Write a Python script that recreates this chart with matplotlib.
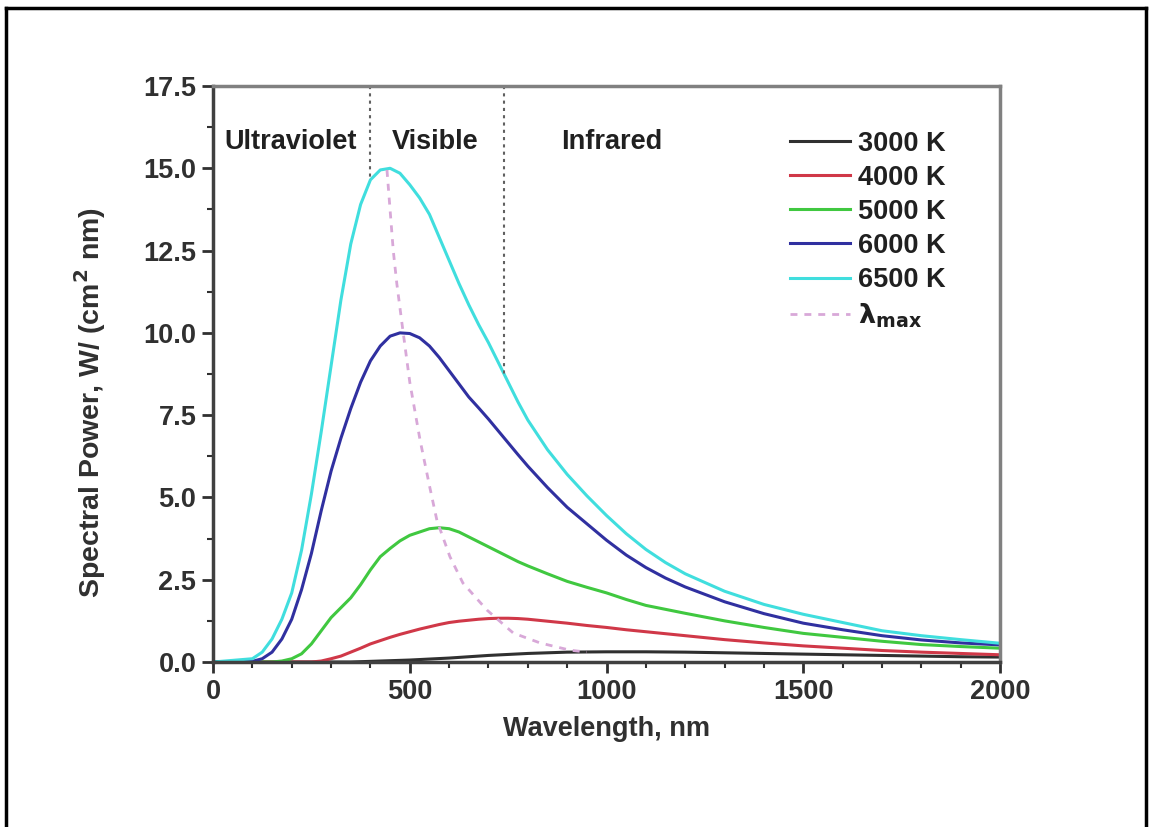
import numpy as np
import matplotlib
matplotlib.use("Agg")
import matplotlib.pyplot as plt
from matplotlib.lines import Line2D

plt.rcParams['font.family'] = ['Liberation Sans', 'DejaVu Sans']
plt.rcParams['font.weight'] = 'bold'
plt.rcParams['mathtext.default'] = 'bf'

# wavelength grid (nm) and spectral power
wl = [0, 100, 125, 150, 175, 200, 225, 250, 275, 300, 325, 350, 375, 400, 425, 450,
      475, 500, 525, 550, 575, 600, 625, 650, 675, 700, 725, 750, 775, 800, 850, 900,
      950, 1000, 1050, 1100, 1150, 1200, 1300, 1400, 1500, 1600, 1700, 1800, 1900, 2000]

p3000 = [0, 0, 0, 0, 0, 0, 0, 0, 0, 0, 0, 0, 0.01, 0.02, 0.03, 0.04,
         0.05, 0.06, 0.075, 0.09, 0.105, 0.12, 0.14, 0.16, 0.18, 0.2, 0.215, 0.23, 0.245, 0.26, 0.28, 0.3,
         0.305, 0.31, 0.31, 0.31, 0.305, 0.3, 0.28, 0.26, 0.24, 0.22, 0.2, 0.18, 0.16, 0.15]
p4000 = [0, 0, 0, 0, 0, 0, 0, 0, 0.03, 0.1, 0.18, 0.3, 0.42, 0.55, 0.65, 0.75,
         0.84, 0.92, 1.0, 1.07, 1.14, 1.2, 1.24, 1.27, 1.3, 1.32, 1.33, 1.33, 1.32, 1.3, 1.24, 1.18,
         1.11, 1.05, 0.98, 0.92, 0.86, 0.8, 0.68, 0.58, 0.49, 0.42, 0.35, 0.3, 0.26, 0.22]
p5000 = [0, 0, 0, 0, 0.03, 0.1, 0.25, 0.55, 0.95, 1.35, 1.65, 1.95, 2.35, 2.8, 3.2, 3.45,
         3.68, 3.85, 3.95, 4.05, 4.08, 4.05, 3.95, 3.8, 3.65, 3.5, 3.35, 3.2, 3.05, 2.92, 2.68, 2.45,
         2.27, 2.1, 1.9, 1.72, 1.6, 1.48, 1.25, 1.05, 0.87, 0.75, 0.63, 0.53, 0.47, 0.42]
p6000 = [0, 0.02, 0.1, 0.3, 0.7, 1.3, 2.2, 3.3, 4.6, 5.8, 6.8, 7.7, 8.5, 9.15, 9.6, 9.9,
         10.0, 9.98, 9.85, 9.6, 9.25, 8.85, 8.45, 8.05, 7.72, 7.38, 7.02, 6.66, 6.3, 5.95, 5.3, 4.7,
         4.2, 3.7, 3.25, 2.87, 2.55, 2.28, 1.83, 1.47, 1.18, 0.98, 0.8, 0.67, 0.58, 0.52]
p6500 = [0, 0.1, 0.3, 0.7, 1.3, 2.1, 3.4, 5.1, 7.0, 9.0, 11.0, 12.7, 13.9, 14.65, 14.95, 15.0,
         14.85, 14.5, 14.1, 13.6, 12.9, 12.2, 11.5, 10.85, 10.25, 9.7, 9.1, 8.5, 7.9, 7.35, 6.45, 5.7,
         5.05, 4.45, 3.9, 3.42, 3.02, 2.68, 2.15, 1.75, 1.45, 1.2, 0.95, 0.8, 0.68, 0.57]

# Wien displacement locus (dotted)
lmax_wl = [442, 458, 467, 480, 500, 526, 551, 569, 602, 635, 696, 763, 831, 907, 950]
lmax_p = [14.95, 12.5, 11.5, 10.3, 8.5, 6.75, 5.3, 4.3, 3.2, 2.4, 1.58, 0.88, 0.58, 0.36, 0.3]

uv_edge = 400
ir_edge = 740

FS = 19.5
fig = plt.figure(figsize=(11.54, 8.27), dpi=100)
ax = fig.add_axes([0.1846, 0.1995, 0.6820, 0.6965])

ax.plot(wl, p3000, color='#303030', lw=2.2, label='3000 K')
ax.plot(wl, p4000, color='#d03848', lw=2.2, label='4000 K')
ax.plot(wl, p5000, color='#40c840', lw=2.2, label='5000 K')
ax.plot(wl, p6000, color='#3030a0', lw=2.2, label='6000 K')
ax.plot(wl, p6500, color='#40dede', lw=2.2, label='6500 K')
ax.plot(lmax_wl, lmax_p, color='#d8a8d8', lw=2.0, ls=(0, (2.5, 2.5)), label=r'$\lambda_{max}$')

# region boundaries, from the top down to the 6500 K curve
for edge in (uv_edge, ir_edge):
    ax.plot([edge, edge], [17.5, np.interp(edge, wl, p6500)], color='#606060',
            lw=1.5, ls=(0, (1.5, 2)))

ax.text(196, 15.8, 'Ultraviolet', ha='center', va='center', fontsize=FS, color='#202020')
ax.text(564, 15.8, 'Visible', ha='center', va='center', fontsize=FS, color='#202020')
ax.text(1012, 15.8, 'Infrared', ha='center', va='center', fontsize=FS, color='#202020')

ax.set_xlim(0, 2000)
ax.set_ylim(0, 17.5)
ax.set_xticks([0, 500, 1000, 1500, 2000])
ax.set_xticks(np.arange(0, 2001, 100), minor=True)
ax.set_yticks(np.arange(0, 17.6, 2.5))
ax.set_yticks(np.arange(0, 17.6, 1.25), minor=True)
ax.set_yticklabels(['%.1f' % v for v in np.arange(0, 17.6, 2.5)])
ax.tick_params(which='major', direction='out', length=8, width=2, labelsize=FS,
               colors='#303030', pad=4)
ax.tick_params(which='minor', direction='out', length=4, width=1.5, colors='#303030')

for s in ('left', 'bottom'):
    ax.spines[s].set_color('#404040')
    ax.spines[s].set_linewidth(2.5)
for s in ('top', 'right'):
    ax.spines[s].set_color('#808080')
    ax.spines[s].set_linewidth(2.5)

ax.set_xlabel('Wavelength, nm', fontsize=FS, fontweight='bold', color='#303030', labelpad=8)
ax.set_ylabel(r'Spectral Power, W/ (cm$^{2}$ nm)', fontsize=20.5, fontweight='bold', color='#303030')
ax.yaxis.set_label_coords(-0.133, 0.45)

leg = ax.legend(loc='upper right', bbox_to_anchor=(0.962, 0.965), frameon=False,
                fontsize=FS, handlelength=2.2, handletextpad=0.3, labelspacing=0.3)
for t in leg.get_texts():
    t.set_color('#202020')

# outer border of the figure
fx0, fx1, fy1 = 6 / 1154, 1146 / 1154, 1 - 8 / 827
fig.add_artist(Line2D([fx0, fx0], [-0.1, fy1], color='black', lw=2.5))
fig.add_artist(Line2D([fx0, fx1], [fy1, fy1], color='black', lw=2.5))
fig.add_artist(Line2D([fx1, fx1], [-0.1, fy1], color='black', lw=2.5))

fig.savefig('out.png', dpi=100)
